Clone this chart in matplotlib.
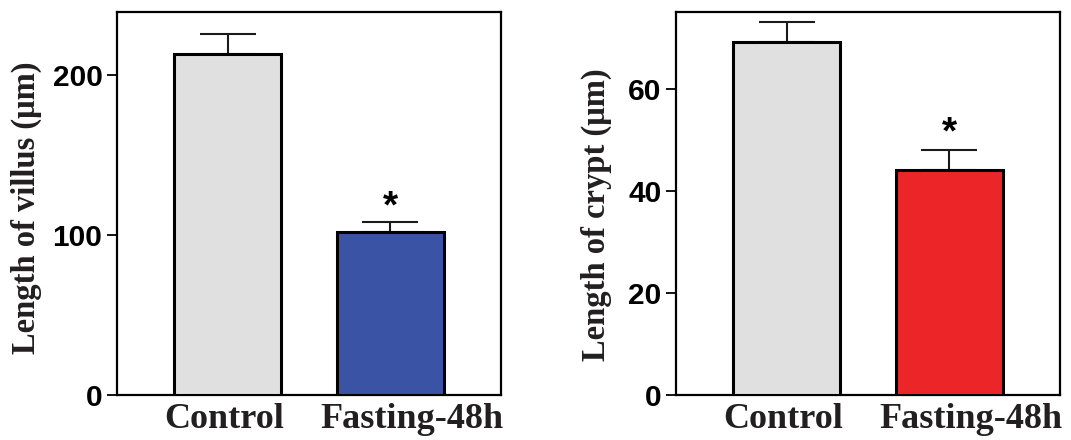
import matplotlib
matplotlib.use("Agg")
import matplotlib.pyplot as plt

groups = ["Control", "Fasting-48h"]
villus_mean = [213.0, 102.0]
villus_err = [12.6, 6.2]
crypt_mean = [69.1, 44.1]
crypt_err = [4.0, 3.9]
villus_ticks = [0, 100, 200]
crypt_ticks = [0, 20, 40, 60]
villus_ylim = 239.4
crypt_ylim = 75.0
villus_star = 117.5
crypt_star = 51.3
villus_colors = ["#e0e0e0", "#3a53a4"]
crypt_colors = ["#e0e0e0", "#ec2528"]

fig = plt.figure(figsize=(10.71, 4.40), dpi=100)
ax1 = fig.add_axes([117/1071, 1-395/440, 384/1071, 383/440])
ax2 = fig.add_axes([676/1071, 1-395/440, 384/1071, 383/440])

label_color = "#231f20"
label_shift = [-0.02, 0.135]  # label offsets in category units

def panel(ax, means, errs, colors, ticks, ylim, star, ylabel, label_x, label_y):
    x = list(range(len(means)))
    ax.bar(x, means, width=0.66, color=colors, edgecolor="black", linewidth=2.2, zorder=3)
    ax.errorbar(x, means, yerr=[[0]*len(errs), errs], fmt="none", ecolor="#1a1a1a",
                elinewidth=1.5, capsize=20.5, capthick=1.5, zorder=2)
    ax.text(1, star, "*", ha="center", va="center", fontsize=28, fontweight="bold",
            family="Liberation Sans", color="black")
    ax.set_xlim(-0.68, 1.68)
    ax.set_ylim(0, ylim)
    ax.set_yticks(ticks)
    ax.set_yticklabels([str(t) for t in ticks], fontsize=21.5, fontweight="bold",
                       family="Liberation Sans")
    ax.set_xticks([xi + d for xi, d in zip(x, label_shift)])
    ax.set_xticklabels(groups, fontsize=26, fontweight="bold", family="Liberation Serif",
                       color=label_color)
    ax.tick_params(axis="x", length=0, pad=6)
    ax.tick_params(axis="y", length=7.5, width=1.3, direction="out", pad=3)
    for s in ax.spines.values():
        s.set_linewidth(1.6)
    ax.set_ylabel(ylabel, fontsize=23.5, fontweight="bold", family="Liberation Serif",
                  color=label_color)
    ax.yaxis.set_label_coords(label_x, label_y)

panel(ax1, villus_mean, villus_err, villus_colors, villus_ticks, villus_ylim, villus_star,
      "Length of villus (\u03bcm)", -0.195, 0.49)
panel(ax2, crypt_mean, crypt_err, crypt_colors, crypt_ticks, crypt_ylim, crypt_star,
      "Length of crypt (\u03bcm)", -0.167, 0.47)

fig.savefig("out.png", dpi=100)
